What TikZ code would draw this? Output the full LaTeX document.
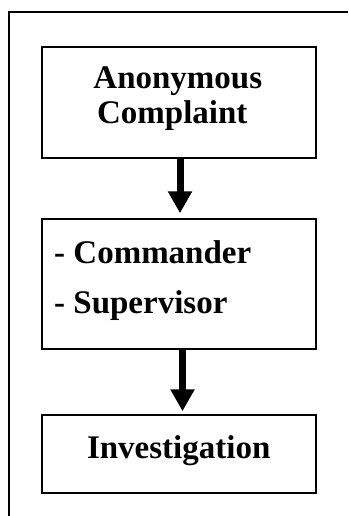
\documentclass[tikz,border=0pt]{standalone}
\usepackage{fontspec}
\setmainfont{Liberation Serif}
\usetikzlibrary{arrows.meta}

\begin{document}
\begin{tikzpicture}[x=1pt,y=-1pt,
  box/.style={draw,line width=1.5pt,rectangle,minimum width=274pt,inner sep=0pt},
  txt/.style={font=\fontsize{33}{34}\selectfont\bfseries,inner sep=0pt,anchor=base},
  txtleft/.style={txt,anchor=base west},
  flow/.style={line width=7pt,-{Triangle[width=23pt,length=22pt]}}]
  \useasboundingbox (0,0) rectangle (348,516);

  % outer frame (open to the right and bottom)
  \draw[line width=2.2pt] (348,12) -- (9,12) -- (9,516);

  % boxes
  \node[box,minimum height=111pt] (complaint) at (179,102.5) {};
  \node[box,minimum height=130pt] (staff) at (179,284) {};
  \node[box,minimum height=78pt] (invest) at (179,454) {};

  % labels
  \node[txt] (anon) at (177.8,89) {Anonymous};
  \node[txt] (compl) at (172.3,124) {Complaint};
  \node[txtleft] (cmdr) at (54,263) {- Commander};
  \node[txtleft] (supv) at (54,313) {- Supervisor};
  \node[txt] (inv) at (178.7,458) {Investigation};

  % flow arrows
  \draw[flow] ([xshift=1pt]complaint.south) -- ([xshift=1pt,yshift=5pt]staff.north);
  \draw[flow] ([xshift=3.5pt]staff.south) -- ([xshift=3.5pt,yshift=3pt]invest.north);
\end{tikzpicture}
\end{document}
